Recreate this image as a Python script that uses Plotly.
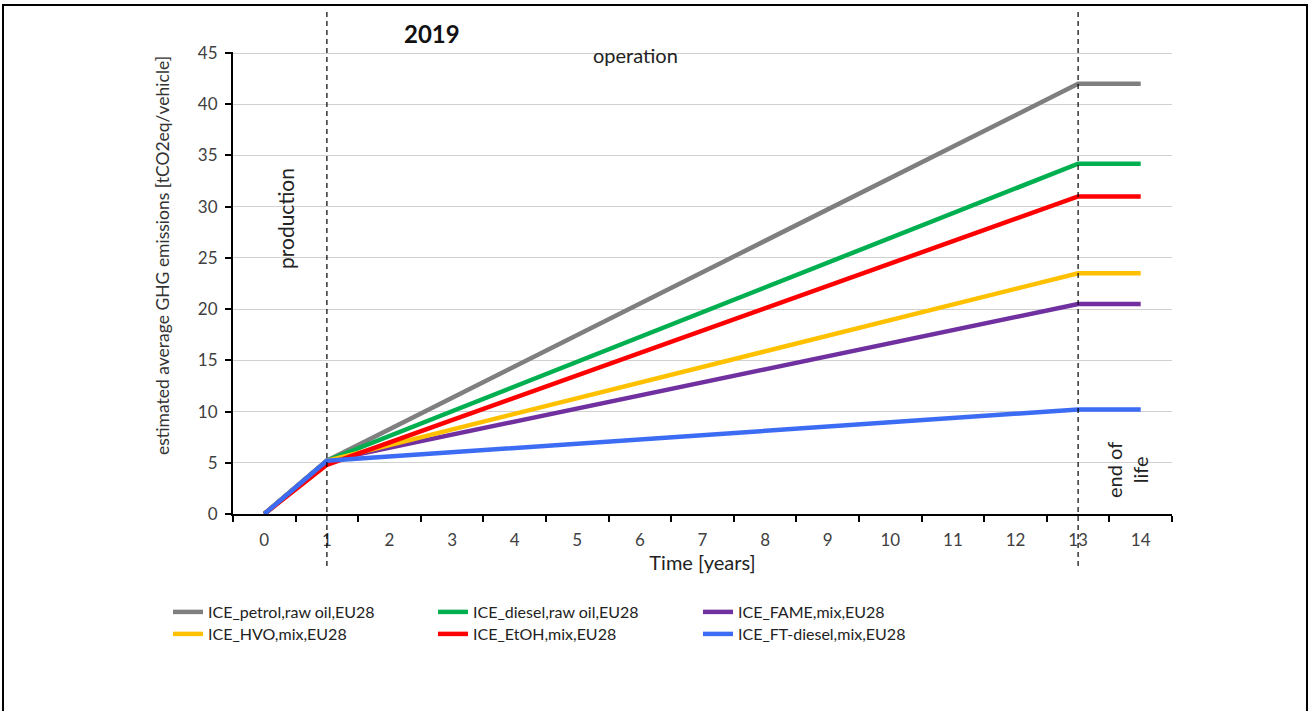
import plotly.graph_objects as go

# time points and emissions per vehicle (tCO2eq)
years = [0, 1, 13, 14]
petrol = [0, 5.2, 42.0, 42.0]
diesel = [0, 5.2, 34.2, 34.2]
fame = [0, 5.2, 20.5, 20.5]
hvo = [0, 5.2, 23.5, 23.5]
etoh = [0, 4.8, 31.0, 31.0]
ft_diesel = [0, 5.2, 10.2, 10.2]

# (name, values, colour, legend row)
series = [
    ("ICE_petrol,raw oil,EU28", petrol, "#7f7f7f", "legend"),
    ("ICE_diesel,raw oil,EU28", diesel, "#00b050", "legend"),
    ("ICE_FAME,mix,EU28", fame, "#7030a0", "legend"),
    ("ICE_HVO,mix,EU28", hvo, "#ffc000", "legend2"),
    ("ICE_EtOH,mix,EU28", etoh, "#ff0000", "legend2"),
    ("ICE_FT-diesel,mix,EU28", ft_diesel, "#3c6cf4", "legend2"),
]

x_ticks = list(range(0, 15))
y_ticks = list(range(0, 50, 5))

W, H = 1311, 711
L, R, T, B = 233, 1172, 52, 514  # plot area in pixels
FONT = "Lato, Roboto, sans-serif"


def px(x):
    return (x - L) / (R - L)


def py(y):
    return (B - y) / (B - T)


fig = go.Figure()
for name, vals, color, leg in series:
    fig.add_trace(go.Scatter(
        x=years, y=vals, mode="lines", name=name, legend=leg,
        line=dict(color=color, width=4.5),
    ))

shapes = []
# white boxes behind labels that interrupt the gridlines
for x0, x1, y0, y1 in [(233, 306, 140, 292), (377, 490, 40, 60),
                       (586, 758, 40, 60), (1090, 1168, 430, 505)]:
    shapes.append(dict(type="rect", xref="paper", yref="paper",
                       x0=px(x0), x1=px(x1), y0=py(y1), y1=py(y0),
                       fillcolor="white", line=dict(width=0), layer="between"))
# phase separators
for xv in (1, 13):
    shapes.append(dict(type="line", xref="x", yref="paper", x0=xv, x1=xv,
                       y0=py(566), y1=py(8),
                       line=dict(color="black", width=1.2, dash="5px,4px"), layer="above"))
# outer frame (open at the bottom)
shapes.append(dict(type="path", xref="paper", yref="paper",
                   path=f"M {px(3)},{py(720)} L {px(3)},{py(5)} L {px(1307)},{py(5)} L {px(1307)},{py(720)}",
                   line=dict(color="black", width=2)))

annotations = [
    dict(text="<b>2019</b>", x=px(432), y=py(33), font=dict(size=24, color="#111")),
    dict(text="operation", x=px(635), y=py(55), font=dict(size=20, color="#222")),
    dict(text="production", x=px(285), y=py(219), textangle=-90, font=dict(size=21, color="#222")),
    dict(text="end of<br>life", x=px(1127), y=py(470), textangle=-90, font=dict(size=20, color="#222")),
    dict(text="estimated average GHG emissions [tCO2eq/vehicle]", x=px(162), y=py(256),
         textangle=-90, font=dict(size=17.5, color="#333")),
]
for a in annotations:
    a.update(xref="paper", yref="paper", showarrow=False, xanchor="center", yanchor="middle")

legend_style = dict(
    orientation="h", xanchor="left", yanchor="middle",
    entrywidth=220, entrywidthmode="pixels", tracegroupgap=0,
    font=dict(size=16, color="#222"), itemwidth=30, bgcolor="rgba(0,0,0,0)",
)

fig.update_layout(
    width=W, height=H,
    margin=dict(l=L, r=W - R, t=T, b=H - B),
    paper_bgcolor="white", plot_bgcolor="white",
    font=dict(family=FONT, color="#404040"),
    shapes=shapes, annotations=annotations,
    xaxis=dict(
        range=[-0.5, 14.5], tickmode="array", tickvals=x_ticks,
        ticks="", showgrid=False, zeroline=False,
        showline=True, linecolor="black", linewidth=2,
        tickfont=dict(size=17, color="#404040"), ticklabelstandoff=10,
        minor=dict(ticks="outside", tick0=0.5, dtick=1, ticklen=6, tickwidth=1.5, tickcolor="black", showgrid=False),
        title=dict(text="Time [years]", font=dict(size=20, color="#222"), standoff=6),
    ),
    yaxis=dict(
        range=[0, 45.1], tickmode="array", tickvals=y_ticks,
        ticks="outside", ticklen=6, tickwidth=1.5, tickcolor="black",
        showgrid=True, gridcolor="#d0d0d0", gridwidth=1, zeroline=False,
        showline=True, linecolor="black", linewidth=2,
        tickfont=dict(size=17, color="#404040"), ticklabelstandoff=4,
    ),
    legend=dict(x=px(168), y=py(612), **legend_style),
    legend2=dict(x=px(168), y=py(634), **legend_style),
    showlegend=True,
)

fig.write_html("out.html", config={"displayModeBar": False},
               post_script="document.body.style.margin='0';")
